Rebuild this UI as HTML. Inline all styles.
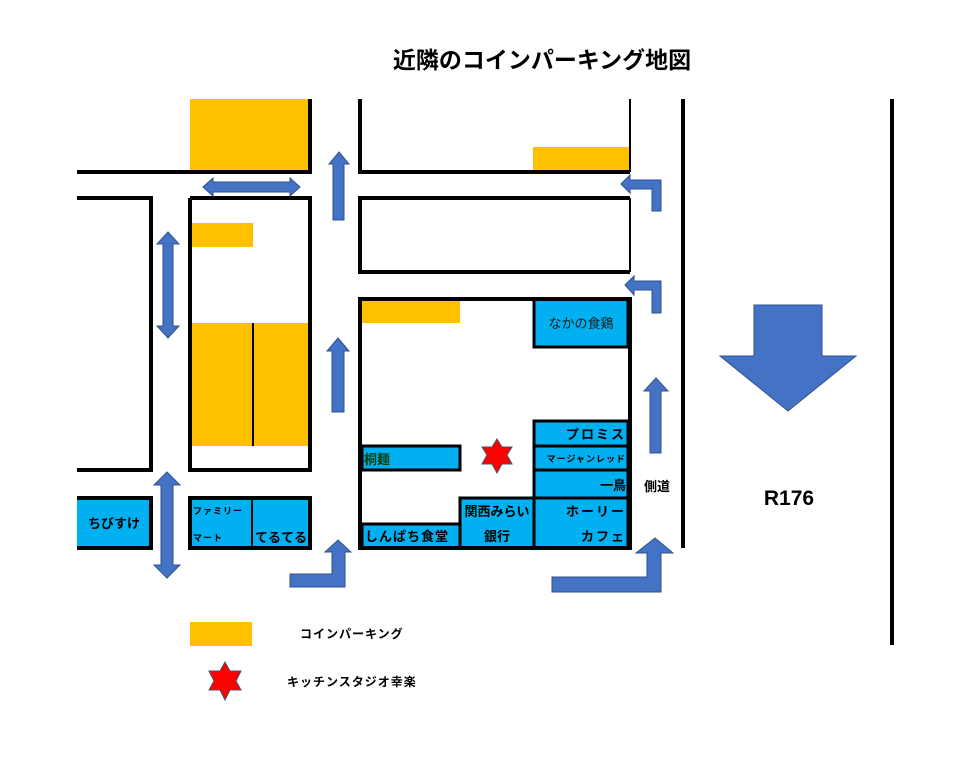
<!DOCTYPE html>
<html><head><meta charset="utf-8"><style>
html,body{margin:0;padding:0;background:#fff;}
svg{display:block;}
text{font-family:"Liberation Sans","Noto Sans CJK JP",sans-serif;}
</style></head><body>
<svg width="978" height="757" viewBox="0 0 978 757" xmlns="http://www.w3.org/2000/svg">
<text x="542" y="68" font-size="23" font-weight="bold" text-anchor="middle" fill="#000">近隣のコインパーキング地図</text>

<g fill="#FFC000">
<rect x="190" y="99" width="120" height="73"/>
<rect x="533" y="147" width="97" height="25"/>
<rect x="192" y="223" width="61" height="24"/>
<rect x="192" y="323" width="118" height="123"/>
<rect x="362" y="299" width="98" height="24"/>
<rect x="190" y="622" width="62" height="24"/>
</g>

<g fill="#00B0F0" stroke="#000" stroke-width="3">
<rect x="534" y="299" width="94" height="48"/>
<rect x="534" y="421" width="94" height="25"/>
<rect x="534" y="446" width="94" height="24"/>
<rect x="534" y="470" width="94" height="28"/>
<rect x="534" y="498" width="94" height="50"/>
<rect x="460" y="498" width="74" height="50"/>
<rect x="362" y="524" width="98" height="24"/>
<rect x="362" y="446" width="98" height="24"/>
<rect x="77" y="500" width="73" height="48" stroke="none"/>
<rect x="192" y="500" width="118" height="48" stroke="none"/>
</g>

<g stroke="#000" stroke-width="4" fill="none">
<polyline points="77,172 312,172"/>
<line x1="310" y1="99" x2="310" y2="174"/>
<polyline points="77,198 151,198 151,470 77,470"/>
<polyline points="190,198 310,198 310,470 190,470 190,198"/>
<polyline points="360,99 360,172 630,172"/>
<polyline points="630,198 360,198 360,272 630,272"/>
<rect x="360" y="299" width="270" height="249"/>
<line x1="683" y1="99" x2="683" y2="548"/>
<line x1="892" y1="99" x2="892" y2="645"/>
<polyline points="77,498 151,498 151,548 77,548"/>
<rect x="190" y="498" width="120" height="50"/>
</g>
<g stroke="#000" stroke-width="2">
<line x1="253" y1="323" x2="253" y2="446"/>
<line x1="252" y1="498" x2="252" y2="548"/>
<line x1="630" y1="99" x2="630" y2="172"/>
<line x1="630" y1="198" x2="630" y2="272"/>
</g>

<g fill="#4472C4" stroke="#2F528F" stroke-width="1">
<polygon points="203,187 213,178 213,182 290,182 290,178 300,187 290,196 290,192 213,192 213,196"/>
<polygon points="339,152 349,164 344,164 344,220 333,220 333,164 329,164"/>
<polygon points="168,232 179,244 173,244 173,326 179,326 168,338 157,326 163,326 163,244 157,244"/>
<polygon points="338,338 349,351 344,351 344,412 332,412 332,351 327,351"/>
<polygon points="167,472 180,485 173,485 173,565 180,565 167,578 154,565 161,565 161,485 154,485"/>
<polygon points="290,574 332,574 332,552 325,552 338,540 351,552 345,552 345,587 290,587"/>
<polygon points="621,184 630,175 630,180 661,180 661,211 652,211 652,189 630,189 630,193"/>
<polygon points="625,285 634,276 634,281 661,281 661,313 652,313 652,290 634,290 634,295"/>
<polygon points="656,378 668,391 661,391 661,453 650,453 650,391 644,391"/>
<polygon points="552,577 647,577 647,553 636,553 655,538 673,553 661,553 661,592 552,592"/>
<polygon points="754,305 822,305 822,356 856,356 788,411 720,356 754,356"/>
</g>

<g fill="#FF0000" stroke="#44546A" stroke-width="1">
<polygon points="497,439 502,447 512,447 507,455 512,464 502,464 497,473 492,464 482,464 487,455 482,447 492,447"/>
<polygon points="225,662 230,671 241,671 236,681 241,690 230,690 225,700 220,690 209,690 214,681 209,671 220,671"/>
</g>

<g fill="#000">
<text x="581" y="328" font-size="13" text-anchor="middle" fill="#1a1a1a">なかの食鶏</text>
<text x="626" y="439" font-size="13" font-weight="bold" text-anchor="end" letter-spacing="2">プロミス</text>
<text x="626" y="462" font-size="9" font-weight="bold" text-anchor="end" letter-spacing="1">マージャンレッド</text>
<text x="626" y="490" font-size="13" font-weight="bold" text-anchor="end">一鳥</text>
<text x="626" y="516" font-size="13" font-weight="bold" text-anchor="end" letter-spacing="2">ホーリー</text>
<text x="626" y="541" font-size="13" font-weight="bold" text-anchor="end" letter-spacing="2">カフェ</text>
<text x="497" y="516" font-size="13" font-weight="bold" text-anchor="middle">関西みらい</text>
<text x="497" y="541" font-size="13" font-weight="bold" text-anchor="middle">銀行</text>
<text x="365" y="541" font-size="13" font-weight="bold" letter-spacing="1">しんぱち食堂</text>
<text x="364" y="464" font-size="13" font-weight="bold" fill="#0a3d0a">桐麺</text>
<text x="114" y="528" font-size="13" font-weight="bold" text-anchor="middle">ちびすけ</text>
<text x="193" y="514" font-size="9" font-weight="bold" letter-spacing="1">ファミリー</text>
<text x="193" y="541" font-size="9" font-weight="bold" letter-spacing="1">マート</text>
<text x="281" y="542" font-size="13" font-weight="bold" text-anchor="middle">てるてる</text>
<text x="657" y="491" font-size="13" font-weight="bold" text-anchor="middle">側道</text>
<text x="789" y="505" font-size="21" font-weight="bold" text-anchor="middle">R176</text>
<text x="300" y="638" font-size="12" font-weight="bold" letter-spacing="1">コインパーキング</text>
<text x="287" y="686" font-size="12" font-weight="bold" letter-spacing="1">キッチンスタジオ幸楽</text>
</g>
</svg>
</body></html>
